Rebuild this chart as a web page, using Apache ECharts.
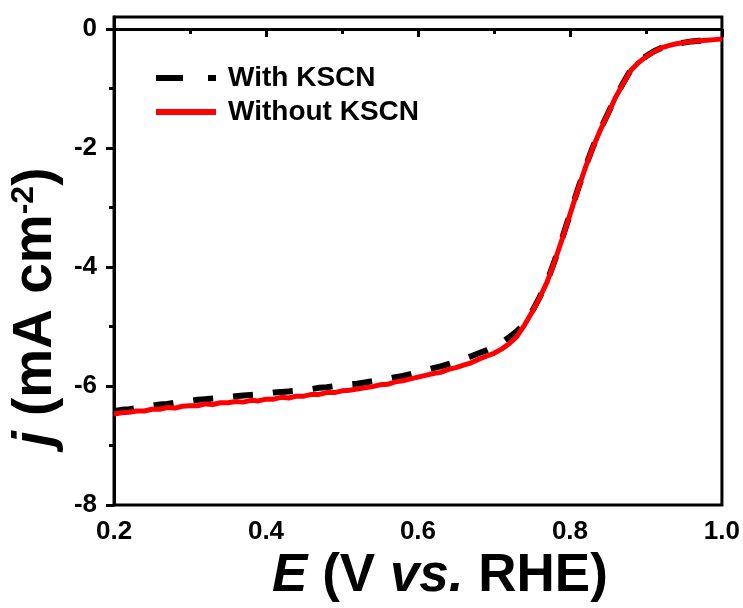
<!DOCTYPE html>
<html>
<head>
<meta charset="utf-8">
<script src="https://cdn.jsdelivr.net/npm/echarts@6/dist/echarts.min.js"></script>
<style>html,body{margin:0;padding:0;background:#fff}#c{width:743px;height:608px}</style>
</head>
<body>
<div id="c"></div>
<script>
// Potential (V vs. RHE)
var potential = [0.20,0.21,0.22,0.23,0.24,0.25,0.26,0.27,0.28,0.29,
  0.30,0.31,0.32,0.33,0.34,0.35,0.36,0.37,0.38,0.39,
  0.40,0.41,0.42,0.43,0.44,0.45,0.46,0.47,0.48,0.49,
  0.50,0.51,0.52,0.53,0.54,0.55,0.56,0.57,0.58,0.59,
  0.60,0.61,0.62,0.63,0.64,0.65,0.66,0.67,0.68,0.69,
  0.70,0.71,0.72,0.73,0.74,0.75,0.76,0.77,0.78,0.79,
  0.80,0.81,0.82,0.83,0.84,0.85,0.86,0.87,0.88,0.89,
  0.90,0.91,0.92,0.93,0.94,0.95,0.96,0.97,0.98,0.99,1.00];
// j (mA cm-2), With KSCN
var withKSCN = [-6.42,-6.40,-6.39,-6.37,-6.35,-6.33,-6.31,-6.30,-6.28,-6.26,
  -6.25,-6.23,-6.22,-6.21,-6.20,-6.18,-6.17,-6.16,-6.15,-6.14,
  -6.13,-6.11,-6.10,-6.09,-6.08,-6.06,-6.05,-6.03,-6.02,-6.00,
  -5.99,-5.97,-5.96,-5.94,-5.92,-5.90,-5.88,-5.85,-5.83,-5.80,
  -5.77,-5.74,-5.70,-5.67,-5.63,-5.59,-5.55,-5.50,-5.45,-5.40,
  -5.34,-5.27,-5.18,-5.08,-4.95,-4.75,-4.51,-4.24,-3.89,-3.51,
  -3.11,-2.71,-2.33,-1.99,-1.69,-1.42,-1.14,-0.91,-0.69,-0.56,
  -0.46,-0.38,-0.32,-0.28,-0.25,-0.23,-0.21,-0.20,-0.19,-0.18,-0.17];
// j (mA cm-2), Without KSCN
var withoutKSCN = [-6.47,-6.45,-6.44,-6.42,-6.42,-6.39,-6.39,-6.36,-6.37,-6.34,
  -6.33,-6.33,-6.30,-6.31,-6.28,-6.28,-6.26,-6.27,-6.24,-6.25,
  -6.22,-6.22,-6.19,-6.20,-6.17,-6.17,-6.14,-6.14,-6.11,-6.11,
  -6.08,-6.07,-6.05,-6.03,-6.01,-5.98,-5.97,-5.93,-5.91,-5.88,
  -5.85,-5.82,-5.79,-5.77,-5.72,-5.69,-5.65,-5.61,-5.55,-5.50,
  -5.45,-5.38,-5.29,-5.17,-4.98,-4.76,-4.52,-4.25,-3.90,-3.52,
  -3.12,-2.72,-2.34,-2.00,-1.70,-1.43,-1.15,-0.92,-0.70,-0.57,
  -0.47,-0.39,-0.32,-0.28,-0.25,-0.23,-0.21,-0.20,-0.19,-0.18,-0.17];
var seriesNames = ['With KSCN', 'Without KSCN'];
var yMajorTicks = [-8, -6, -4, -2, 0];
var yMinorTicks = [-7, -5, -3, -1];

function pairs(xs, ys) { return xs.map(function (x, i) { return [x, ys[i]]; }); }

var FONT = '"Liberation Sans", Arial, sans-serif';
var chart = echarts.init(document.getElementById('c'), null, { renderer: 'canvas' });
chart.setOption({
  backgroundColor: '#fff',
  animation: false,
  grid: { left: 112, right: 21, top: 17, bottom: 95, show: true, borderColor: '#000', borderWidth: 3, backgroundColor: 'transparent' },
  legend: {
    left: 153, top: 64, padding: 0, orient: 'vertical', itemWidth: 60, itemHeight: 14, itemGap: 6,
    textStyle: { fontFamily: FONT, fontWeight: 'bold', fontSize: 28, color: '#000', padding: [0, 0, 0, 7] },
    data: [
      { name: seriesNames[0], itemStyle: { opacity: 0 }, lineStyle: { type: [27, 25, 8, 60], width: 6, color: '#000' } },
      { name: seriesNames[1], itemStyle: { opacity: 0 }, lineStyle: { width: 6, color: '#ff0000' } }
    ]
  },
  xAxis: {
    type: 'value', min: 0.2, max: 1.0, interval: 0.2,
    axisLine: { lineStyle: { color: '#000', width: 3 } },
    axisTick: { show: true, inside: false, length: 8, lineStyle: { width: 3, color: '#000' } },
    minorTick: { show: true, splitNumber: 2, length: 5, lineStyle: { width: 3, color: '#000' } },
    splitLine: { show: false },
    axisLabel: { fontFamily: FONT, fontWeight: 'bold', fontSize: 26, color: '#000', margin: 14,
      formatter: function (v) { return v.toFixed(1); } },
    name: '{i|E} (V {i|vs.} RHE)', nameLocation: 'middle', nameGap: 36,
    nameTextStyle: { fontFamily: FONT, fontWeight: 'bold', fontSize: 53, color: '#000', padding: [0, 0, 0, 44],
      rich: { i: { fontFamily: FONT, fontWeight: 'bold', fontStyle: 'italic', fontSize: 53, color: '#000' } } }
  },
  yAxis: [{
    type: 'value', min: -8, max: 0.2,
    axisLine: { show: true, lineStyle: { color: '#000', width: 3 } },
    axisTick: { show: true, inside: false, length: 8, customValues: yMajorTicks, lineStyle: { width: 3, color: '#000' } },
    splitLine: { show: false },
    axisLabel: { fontFamily: FONT, fontWeight: 'bold', fontSize: 26, color: '#000', margin: 17, customValues: yMajorTicks },
    name: '{i|j} (mA cm{s|-2})', nameLocation: 'middle', nameGap: 34, nameRotate: 90,
    nameTextStyle: { fontFamily: FONT, fontWeight: 'bold', fontSize: 55, color: '#000', padding: [0, 92, 0, 0],
      rich: {
        i: { fontFamily: FONT, fontWeight: 'bold', fontStyle: 'italic', fontSize: 55, color: '#000' },
        s: { fontFamily: FONT, fontWeight: 'bold', fontSize: 32, color: '#000', verticalAlign: 'top', padding: [0, 0, 21, 0] }
      } }
  }, {
    type: 'value', min: -8, max: 0.2, position: 'left',
    axisLine: { show: false },
    axisTick: { show: true, inside: false, length: 5, customValues: yMinorTicks, lineStyle: { width: 3, color: '#000' } },
    splitLine: { show: false },
    axisLabel: { show: false }
  }],
  series: [{
    name: seriesNames[0], type: 'line', data: pairs(potential, withKSCN), showSymbol: false, symbol: 'none',
    itemStyle: { color: '#000' },
    lineStyle: { color: '#000', width: 6, type: [20, 20] }, z: 2
  }, {
    name: seriesNames[1], type: 'line', data: pairs(potential, withoutKSCN), showSymbol: false, symbol: 'none',
    itemStyle: { color: '#ff0000' },
    lineStyle: { color: '#ff0000', width: 5 }, z: 3
  }]
});
</script>
</body>
</html>
